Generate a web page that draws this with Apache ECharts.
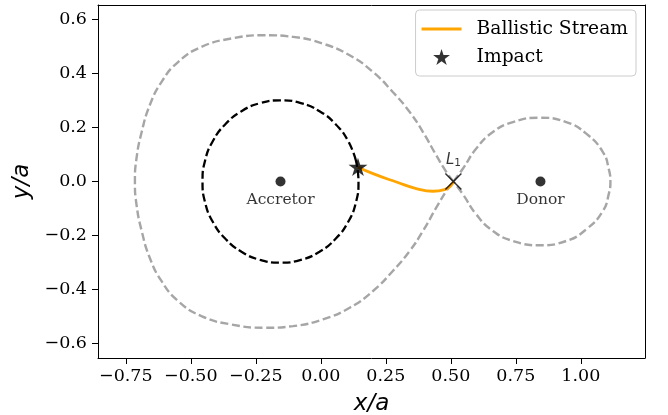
<!DOCTYPE html>
<html>
<head>
<meta charset="utf-8">
<script src="https://cdn.jsdelivr.net/npm/echarts@6/dist/echarts.min.js"></script>
<style>html,body{margin:0;padding:0;background:#fff}#c{width:668px;height:415px}</style>
</head>
<body>
<div id="c"></div>
<script>
// ---- data ----
const xTickValues = [-0.75, -0.5, -0.25, 0, 0.25, 0.5, 0.75, 1.0];
const xTickLabels = ['\u22120.75', '\u22120.50', '\u22120.25', '0.00', '0.25', '0.50', '0.75', '1.00'];
const yTickValues = [-0.6, -0.4, -0.2, 0, 0.2, 0.4, 0.6];
const yTickLabels = ['\u22120.6', '\u22120.4', '\u22120.2', '0.0', '0.2', '0.4', '0.6'];

// Roche lobe around the accretor (from L1, over the top, round and back to L1)
const accretorLobe = [
  [0.510, 0], [0.483, 0.035], [0.444, 0.097], [0.393, 0.183], [0.342, 0.257], [0.277, 0.331],
  [0.201, 0.405], [0.111, 0.467], [0.008, 0.510], [-0.107, 0.535], [-0.216, 0.541], [-0.344, 0.529],
  [-0.459, 0.498], [-0.549, 0.442], [-0.613, 0.368], [-0.658, 0.282], [-0.689, 0.183], [-0.709, 0.085],
  [-0.715, 0],
  [-0.709, -0.085], [-0.689, -0.183], [-0.658, -0.282], [-0.613, -0.368], [-0.549, -0.442], [-0.459, -0.498],
  [-0.344, -0.529], [-0.216, -0.541], [-0.107, -0.535], [0.008, -0.510], [0.111, -0.467], [0.201, -0.405],
  [0.277, -0.331], [0.342, -0.257], [0.393, -0.183], [0.444, -0.097], [0.483, -0.035], [0.510, 0]
];
// Roche lobe around the donor
const donorLobe = [
  [0.510, 0], [0.547, 0.048], [0.598, 0.122], [0.662, 0.183], [0.739, 0.220], [0.841, 0.236],
  [0.944, 0.220], [1.021, 0.177], [1.085, 0.109], [1.108, 0.045], [1.114, 0],
  [1.108, -0.045], [1.085, -0.109], [1.021, -0.177], [0.944, -0.220], [0.841, -0.236], [0.739, -0.220],
  [0.662, -0.183], [0.598, -0.122], [0.547, -0.048], [0.510, 0]
];
// dashed circle round the accretor (r ~ 0.30)
const circlePts = [
  [0.135, 0.078], [0.105, 0.150], [0.057, 0.212], [-0.005, 0.260], [-0.077, 0.290], [-0.155, 0.300],
  [-0.233, 0.290], [-0.305, 0.260], [-0.367, 0.212], [-0.415, 0.150], [-0.445, 0.078], [-0.455, 0],
  [-0.445, -0.078], [-0.415, -0.150], [-0.367, -0.212], [-0.305, -0.260], [-0.233, -0.290], [-0.155, -0.300],
  [-0.077, -0.290], [-0.005, -0.260], [0.057, -0.212], [0.105, -0.150], [0.135, -0.078], [0.145, 0],
  [0.135, 0.078]
];
// ballistic stream from L1 to the impact point
const streamPts = [
  [0.510, 0], [0.502, -0.014], [0.476, -0.030], [0.431, -0.036], [0.367, -0.026],
  [0.291, -0.002], [0.201, 0.029], [0.143, 0.054]
];
const impactPt = [[0.143, 0.054]];
const accretorPt = [[-0.155, 0]];
const donorPt = [[0.845, 0]];
const l1Pt = [[0.510, 0]];

// ---- chart ----
const starPath = 'path://M50,0L61.2,34.5L97.6,34.5L68.2,55.9L79.4,90.5L50,69.1L20.6,90.5L31.8,55.9L2.4,34.5L38.8,34.5Z';
const crossPath = 'path://M0,0L10,10M10,0L0,10';
const serif = 'DejaVu Serif';
const X_MIN = -0.857, X_MAX = 1.247, Y_MIN = -0.653, Y_MAX = 0.653;
function lab(values, labels) {
  return function (v) {
    const i = values.findIndex(t => Math.abs(t - v) < 1e-9);
    return i >= 0 ? labels[i] : '';
  };
}
const spine = { show: true, onZero: false, lineStyle: { color: '#000', width: 1 } };
const dash = [8, 3.5];
const chart = echarts.init(document.getElementById('c'), null, { renderer: 'canvas' });
chart.setOption({
  animation: false,
  backgroundColor: '#fff',
  grid: { left: 98, right: 23, top: 5, bottom: 57, outerBoundsMode: 'none', containLabel: false },
  xAxis: [{
    type: 'value', min: X_MIN, max: X_MAX, position: 'bottom',
    name: 'x/a', nameLocation: 'middle', nameGap: 35,
    nameTextStyle: { fontFamily: 'DejaVu Sans', fontStyle: 'italic', fontSize: 23, color: '#000' },
    axisLine: spine,
    axisTick: { show: true, length: 6, lineStyle: { color: '#000', width: 1 }, customValues: xTickValues },
    axisLabel: { color: '#000', fontFamily: serif, fontSize: 17.5, margin: 9, customValues: xTickValues, formatter: lab(xTickValues, xTickLabels) },
    splitLine: { show: false }
  }, {
    type: 'value', min: X_MIN, max: X_MAX, position: 'top',
    axisLine: spine, axisTick: { show: false }, axisLabel: { show: false }, splitLine: { show: false }
  }],
  yAxis: [{
    type: 'value', min: Y_MIN, max: Y_MAX, position: 'left',
    name: 'y/a', nameLocation: 'middle', nameGap: 53, nameRotate: 90,
    nameTextStyle: { fontFamily: 'DejaVu Sans', fontStyle: 'italic', fontSize: 23, color: '#000' },
    axisLine: spine,
    axisTick: { show: true, length: 6, lineStyle: { color: '#000', width: 1 }, customValues: yTickValues },
    axisLabel: { color: '#000', fontFamily: serif, fontSize: 17.5, margin: 11, customValues: yTickValues, formatter: lab(yTickValues, yTickLabels) },
    splitLine: { show: false }
  }, {
    type: 'value', min: Y_MIN, max: Y_MAX, position: 'right',
    axisLine: spine, axisTick: { show: false }, axisLabel: { show: false }, splitLine: { show: false }
  }],
  legend: {
    data: [
      { name: 'Ballistic Stream', icon: 'path://M0,0H40V3H0Z', itemStyle: { color: '#ffa500', borderWidth: 0 } },
      { name: 'Impact', icon: starPath, itemStyle: { color: '#000', borderWidth: 0 } }
    ],
    orient: 'vertical', right: 32, top: 10,
    itemWidth: 40, itemHeight: 16, itemGap: 8,
    padding: [9, 8, 9, 6],
    textStyle: { fontFamily: serif, fontSize: 18.7, color: '#000', lineHeight: 20, padding: [0, 0, 0, 10] },
    backgroundColor: 'rgba(255,255,255,0.8)', borderColor: '#cccccc', borderWidth: 1, borderRadius: 4
  },
  series: [
    { name: 'lobeA', type: 'line', data: accretorLobe, smooth: 0.5, showSymbol: false, symbol: 'none',
      lineStyle: { color: '#a6a6a6', width: 2.4, type: dash }, z: 1, silent: true },
    { name: 'lobeD', type: 'line', data: donorLobe, smooth: 0.5, showSymbol: false, symbol: 'none',
      lineStyle: { color: '#a6a6a6', width: 2.4, type: dash }, z: 1, silent: true },
    { name: 'circle', type: 'line', data: circlePts, smooth: 0.5, showSymbol: false, symbol: 'none',
      lineStyle: { color: '#000', width: 2.3, type: dash }, z: 2, silent: true },
    { name: 'Ballistic Stream', type: 'line', data: streamPts, smooth: 0.5, showSymbol: false, symbol: 'none',
      itemStyle: { color: '#ffa500' }, lineStyle: { color: '#ffa500', width: 2.8 }, z: 3 },
    { name: 'Impact', type: 'scatter', data: impactPt, symbol: starPath, symbolSize: 19, symbolKeepAspect: true,
      itemStyle: { color: '#000' }, z: 5 },
    { name: 'accretor', type: 'scatter', data: accretorPt, symbol: 'circle', symbolSize: 10,
      itemStyle: { color: '#000' }, z: 6,
      label: { show: true, position: 'bottom', distance: 5, formatter: 'Accretor', fontFamily: serif, fontSize: 15.5, color: '#000' } },
    { name: 'donor', type: 'scatter', data: donorPt, symbol: 'circle', symbolSize: 10,
      itemStyle: { color: '#000' }, z: 6,
      label: { show: true, position: 'bottom', distance: 5, formatter: 'Donor', fontFamily: serif, fontSize: 15.5, color: '#000' } },
    { name: 'L1', type: 'scatter', data: l1Pt, symbol: crossPath, symbolSize: 16,
      itemStyle: { color: 'transparent', borderColor: '#000', borderWidth: 1.5 }, z: 6,
      label: { show: true, position: 'top', distance: 4, formatter: '{L|L}{s|1}',
        rich: { L: { fontFamily: 'DejaVu Sans', fontStyle: 'italic', fontSize: 15, lineHeight: 18, color: '#000' },
                s: { fontFamily: 'DejaVu Sans', fontSize: 10.5, lineHeight: 10, verticalAlign: 'bottom', color: '#000' } } } }
  ]
});
</script>
</body>
</html>
